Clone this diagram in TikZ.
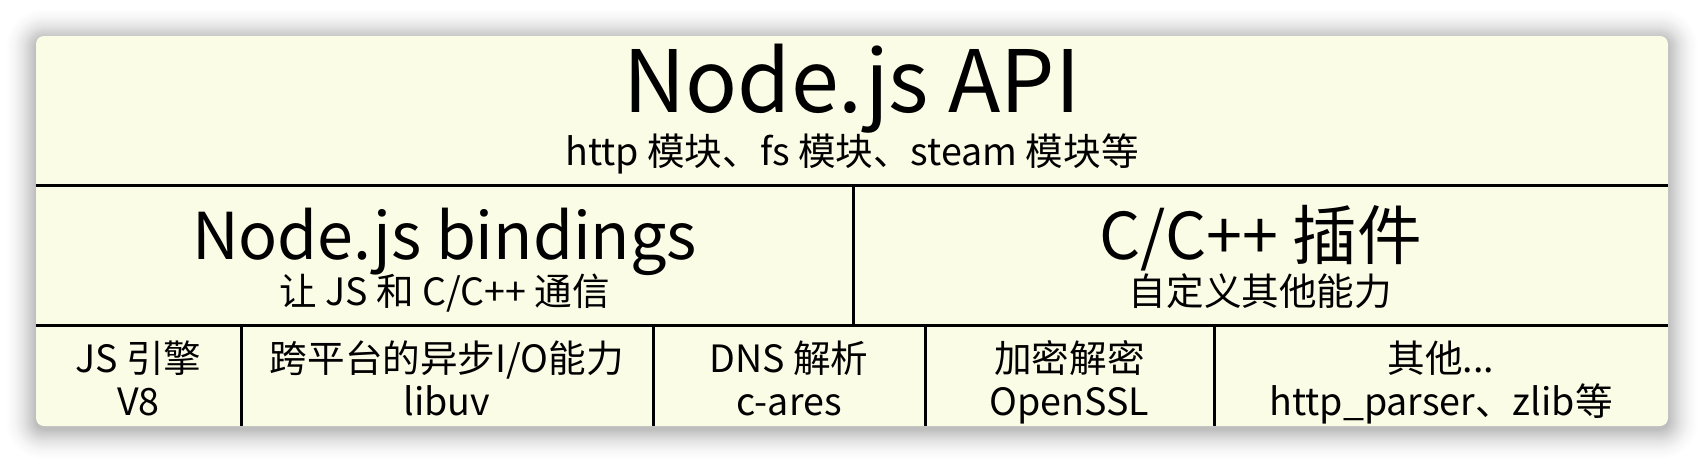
\documentclass[tikz,border=0pt]{standalone}
\usepackage{fontspec}
\setmainfont{Noto Sans CJK SC}
\definecolor{boxfill}{RGB}{250,252,230}
\begin{document}
\begin{tikzpicture}[x=0.5pt,y=-0.5pt,
  sep/.style={line width=1.5pt,black},
  big/.style={font=\fontsize{43}{48}\selectfont, anchor=base, inner sep=0pt},
  mid/.style={font=\fontsize{32.3}{36}\selectfont, anchor=base, inner sep=0pt},
  small/.style={font=\fontsize{18.8}{21}\selectfont, anchor=base, inner sep=0pt}]
\useasboundingbox (0,0) rectangle (1704,462);
\fill[white] (0,0) rectangle (1704,462);
% shadow
\foreach \i in {1,...,34} {
  \pgfmathsetmacro\rr{4+0.5*\i}
  \pgfmathsetmacro\op{0.015*(1-\i/35)}
  \fill[black, opacity=\op, rounded corners=\rr pt] (36-\i,39-\i) rectangle (1668+\i,429+\i);
}
% panel
\fill[boxfill, rounded corners=4pt] (36,36) rectangle (1668,426);
% grid coordinates
\coordinate (h1l) at (36,185);  \coordinate (h1r) at (1668,185);
\coordinate (h2l) at (36,325);  \coordinate (h2r) at (1668,325);
\coordinate (vt1) at (853,185); \coordinate (vb1) at (853,325);
\coordinate (a1) at (241,325);  \coordinate (b1) at (241,426);
\coordinate (a2) at (653,325);  \coordinate (b2) at (653,426);
\coordinate (a3) at (925,325);  \coordinate (b3) at (925,426);
\coordinate (a4) at (1214,325); \coordinate (b4) at (1214,426);
\draw[sep] (h1l) -- (h1r);
\draw[sep] (h2l) -- (h2r);
\draw[sep] (vt1) -- (vb1);
\draw[sep] (a1) -- (b1);
\draw[sep] (a2) -- (b2);
\draw[sep] (a3) -- (b3);
\draw[sep] (a4) -- (b4);
% texts
\node[big] (api) at (852,112) {Node.js API};
\node[small] (apisub) at (852,165) {http 模块、fs 模块、steam 模块等};
\node[mid] (bind) at (444.5,259) {Node.js bindings};
\node[small] (bindsub) at (444.5,305) {让 JS 和 C/C++ 通信};
\node[mid] (addon) at (1260.5,259) {C/C++ 插件};
\node[small] (addonsub) at (1260.5,305) {自定义其他能力};
\node[small] (v8a) at (138.5,372) {JS 引擎};
\node[small] (v8b) at (138.5,415) {V8};
\node[small] (uva) at (447,372) {跨平台的异步I/O能力};
\node[small] (uvb) at (447,415) {libuv};
\node[small] (dnsa) at (789,372) {DNS 解析};
\node[small] (dnsb) at (789,415) {c-ares};
\node[small] (ssla) at (1069.5,372) {加密解密};
\node[small] (sslb) at (1069.5,415) {OpenSSL};
\node[small] (otha) at (1441,372) {其他...};
\node[small] (othb) at (1441,415) {http\_parser、zlib等};
\end{tikzpicture}
\end{document}
